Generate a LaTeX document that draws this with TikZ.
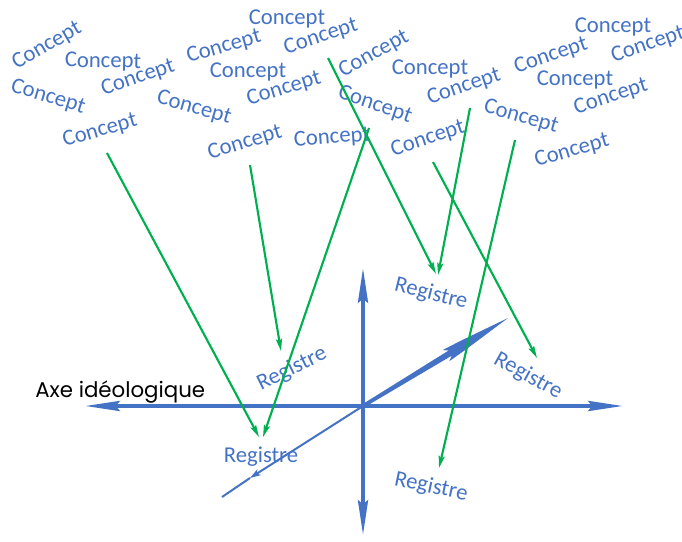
\documentclass[tikz,border=0pt]{standalone}
\usepackage{fontspec}
\setmainfont{Carlito}
\newfontfamily\axefont{Poppins}
\usetikzlibrary{arrows.meta}
\definecolor{cblue}{HTML}{4472C4}
\definecolor{cgreen}{HTML}{00B050}
\begin{document}
\begin{tikzpicture}[x=0.75pt,y=-0.75pt,
  concept/.style={text=cblue, font=\fontsize{17}{20}\selectfont, inner sep=0pt},
  registre/.style={text=cblue, font=\fontsize{17}{20}\selectfont, inner sep=0pt},
  axisline/.style={draw=cblue, line width=3pt,
    {Stealth[length=26pt,width=7.5pt,inset=3pt]}-{Stealth[length=26pt,width=7.5pt,inset=3pt]}},
  depthline/.style={draw=cblue, line width=1.5pt},
  link/.style={draw=cgreen, line width=1.6pt, -{Stealth[length=9pt,width=4.5pt,inset=1.5pt]}}]
\useasboundingbox (0,0) rectangle (682,542);

% Concepts
\node[concept, rotate=30]  (c1)  at (47,46)   {Concept};
\node[concept, rotate=-1]  (c2)  at (103,62)  {Concept};
\node[concept, rotate=19]  (c3)  at (138,78)  {Concept};
\node[concept, rotate=-17] (c4)  at (48,97)   {Concept};
\node[concept, rotate=16]  (c5)  at (100,131) {Concept};
\node[concept, rotate=-16] (c6)  at (194,108) {Concept};
\node[concept, rotate=0]   (c7)  at (287,19)  {Concept};
\node[concept, rotate=16]  (c8)  at (224,47)  {Concept};
\node[concept, rotate=18]  (c9)  at (321,37)  {Concept};
\node[concept, rotate=0]   (c10) at (248,72)  {Concept};
\node[concept, rotate=17]  (c11) at (284,89)  {Concept};
\node[concept, rotate=29]  (c12) at (374,54)  {Concept};
\node[concept, rotate=-19] (c13) at (375,105) {Concept};
\node[concept, rotate=17]  (c14) at (245,143) {Concept};
\node[concept, rotate=4]   (c15) at (332,138) {Concept};
\node[concept, rotate=18]  (c16) at (428,139) {Concept};
\node[concept, rotate=0]   (c17) at (430,69)  {Concept};
\node[concept, rotate=19]  (c18) at (464,87)  {Concept};
\node[concept, rotate=19]  (c19) at (551,56)  {Concept};
\node[concept, rotate=0]   (c20) at (613,27)  {Concept};
\node[concept, rotate=19]  (c21) at (648,45)  {Concept};
\node[concept, rotate=0]   (c22) at (575,80)  {Concept};
\node[concept, rotate=18]  (c23) at (611,97)  {Concept};
\node[concept, rotate=-16] (c24) at (521,117) {Concept};
\node[concept, rotate=16]  (c25) at (572,151) {Concept};

% Registres
\node[registre, rotate=26]  (r1) at (292,369) {Registre};
\node[registre, rotate=0]   (r2) at (261,457) {Registre};
\node[registre, rotate=-14] (r3) at (431,294) {Registre};
\node[registre, rotate=-29] (r4) at (528,376) {Registre};
\node[registre, rotate=-12] (r5) at (431,487) {Registre};

% Axes
\coordinate (O)  at (363,406);
\coordinate (xl) at (85,406);
\coordinate (xr) at (623,406);
\coordinate (yt) at (363,268);
\coordinate (yb) at (363,535);
\coordinate (dm) at (250,478);
\coordinate (dl) at (222,497);
\draw[axisline] (xl) -- (xr);
\draw[axisline] (yt) -- (yb);
\draw[depthline, -{Stealth[length=8pt,width=5pt,inset=2pt]}] (O) -- (dm);
\draw[depthline] (dm) -- (dl);
\begin{scope}[shift={(O)}, rotate=31.25]
  \fill[cblue] (0,1.8) -- (102,3) -- (97,6.5) -- (118,5) -- (169.6,0)
     -- (118,-5) -- (97,-6.5) -- (102,-3) -- (0,-1.8) -- cycle;
\end{scope}

\node[anchor=base west, inner sep=0pt, font=\axefont\fontsize{16}{19}\selectfont] (axe) at (35,397) {Axe idéologique};

% Green links
\coordinate (s1) at (107,153);
\coordinate (e1) at (259,437);
\coordinate (s2) at (250,165);
\coordinate (e2) at (281,351);
\coordinate (s3) at (369,128);
\coordinate (e3) at (263,437);
\coordinate (s4) at (328,58);
\coordinate (e4) at (436,274);
\coordinate (s5) at (470,108);
\coordinate (e5) at (438,275);
\coordinate (s6) at (433,162);
\coordinate (e6) at (537,358);
\coordinate (s7) at (515,140);
\coordinate (e7) at (439,468);
\draw[link] (s1) -- (e1);
\draw[link] (s2) -- (e2);
\draw[link] (s3) -- (e3);
\draw[link] (s4) -- (e4);
\draw[link] (s5) -- (e5);
\draw[link] (s6) -- (e6);
\draw[link] (s7) -- (e7);
\end{tikzpicture}
\end{document}
